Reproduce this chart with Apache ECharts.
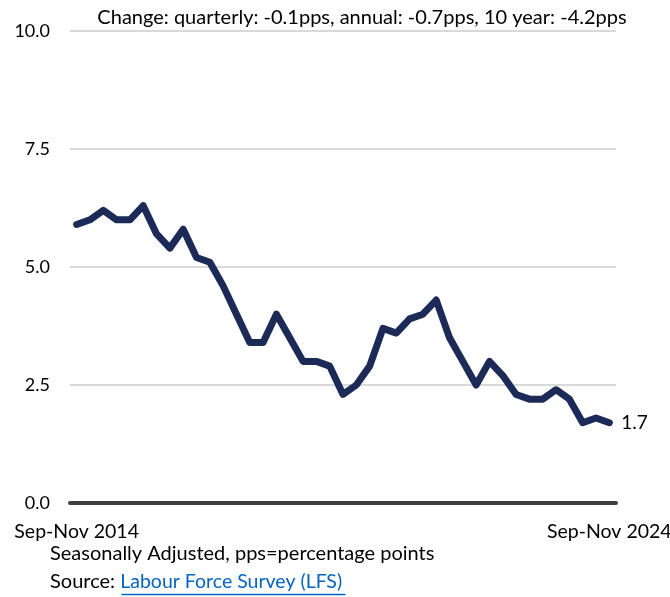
<!DOCTYPE html>
<html>
<head>
<meta charset="utf-8">
<script src="https://cdn.jsdelivr.net/npm/echarts@6/dist/echarts.min.js"></script>
<style>
  html, body { margin: 0; padding: 0; background: #fff; }
  #main { width: 670px; height: 597px; }
</style>
</head>
<body>
<div id="main"></div>
<script>
var myChart = echarts.init(document.getElementById('main'));

// quarterly periods, Sep-Nov 2014 .. Sep-Nov 2024
var months = ['Sep-Nov', 'Dec-Feb', 'Mar-May', 'Jun-Aug'];
var periods = [];
for (var i = 0; i < 41; i++) {
    var yr = 2014 + Math.floor((i + 1) / 4);
    if (i % 4 === 0) yr = 2014 + i / 4;
    periods.push(months[i % 4] + ' ' + yr);
}

var rates = [
    5.9, 6.0, 6.2, 6.0, 6.0, 6.3, 5.7, 5.4, 5.8, 5.2,
    5.1, 4.6, 4.0, 3.4, 3.4, 4.0, 3.5, 3.0, 3.0, 2.9,
    2.3, 2.5, 2.9, 3.7, 3.6, 3.9, 4.0, 4.3, 3.5, 3.0,
    2.5, 3.0, 2.7, 2.3, 2.2, 2.2, 2.4, 2.2, 1.7, 1.8,
    1.7
];

var shownTicks = ['Sep-Nov 2014', 'Sep-Nov 2024'];
var yTicks = [0, 2.5, 5, 7.5, 10];

var fontName = 'Lato';

var option = {
    backgroundColor: '#ffffff',
    animation: false,
    textStyle: { fontFamily: fontName },
    title: {
        text: 'Change: quarterly: -0.1pps, annual: -0.7pps, 10 year: -4.2pps',
        left: 357,
        top: 3,
        textAlign: 'center',
        textStyle: { fontSize: 20, fontWeight: 'normal', color: '#000', fontFamily: fontName }
    },
    grid: { left: 70, right: 54, top: 31, bottom: 94, containLabel: false, outerBoundsMode: 'none' },
    xAxis: {
        type: 'category',
        data: periods,
        boundaryGap: true,
        axisLine: { show: true, lineStyle: { color: '#404040', width: 4 } },
        axisTick: { show: false },
        axisLabel: {
            interval: 0,
            color: '#000',
            fontSize: 19.5,
            margin: 19,
            fontFamily: fontName,
            formatter: function (v) { return shownTicks.indexOf(v) >= 0 ? v : ''; }
        },
        splitLine: { show: false }
    },
    yAxis: {
        type: 'value',
        min: yTicks[0],
        max: yTicks[yTicks.length - 1],
        interval: 2.5,
        axisLine: { show: false },
        axisTick: { show: false },
        axisLabel: {
            color: '#000',
            fontSize: 18,
            margin: 20,
            fontFamily: fontName,
            formatter: function (v) { return v.toFixed(1); }
        },
        splitLine: { lineStyle: { color: '#d9d9d9', width: 2 } }
    },
    series: [{
        name: 'rate',
        type: 'line',
        data: rates,
        symbol: 'none',
        lineStyle: { color: '#1b2a57', width: 7, join: 'round', cap: 'round' },
        itemStyle: { color: '#1b2a57' },
        endLabel: {
            show: true,
            distance: 12,
            color: '#000',
            fontSize: 19,
            fontFamily: fontName,
            formatter: function (p) { return p.value.toFixed(1); }
        }
    }],
    graphic: [
        {
            type: 'text', left: 50, top: 544,
            style: { text: 'Seasonally Adjusted, pps=percentage points', fill: '#000', font: '20px ' + fontName }
        },
        {
            type: 'text', left: 50, top: 572,
            style: {
                text: 'Source: {link|Labour Force Survey (LFS)}',
                fill: '#000',
                font: '20px ' + fontName,
                rich: { link: { fill: '#0563c1', font: '19.5px ' + fontName } }
            }
        },
        {
            type: 'line', left: 119, top: 592,
            shape: { x1: 0, y1: 0, x2: 224, y2: 0 },
            style: { stroke: '#0563c1', lineWidth: 1.5 }
        }
    ]
};
myChart.setOption(option);
</script>
</body>
</html>
